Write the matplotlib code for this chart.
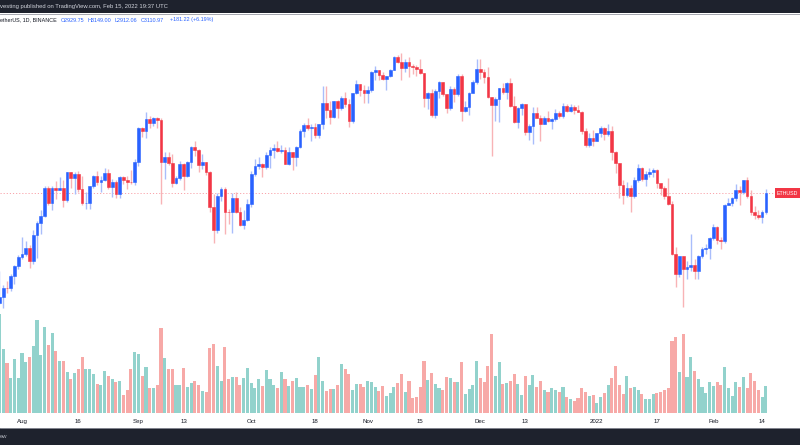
import matplotlib
matplotlib.use("Agg")
import matplotlib.pyplot as plt
from matplotlib.patches import Rectangle
from matplotlib.lines import Line2D
import numpy as np
import pandas as pd

# ---------------- data (ETH/USDT daily, Binance) ----------------
dates = pd.date_range("2021-07-26", "2022-02-15", freq="D")

opens = [2191, 2233, 2298, 2297, 2383, 2461,
         2536, 2558, 2609, 2505, 2724, 2827, 2890, 3157, 3011, 3163, 3141, 3164, 3045, 3322, 3265, 3309,
         3148, 3012, 3017, 3180, 3287, 3225, 3242, 3320, 3172, 3226, 3100, 3270, 3241, 3226, 3224,
         3433, 3833, 3790, 3938, 3888, 3953, 3927, 3430, 3495, 3428, 3210, 3265, 3411, 3290, 3430,
         3610, 3575, 3400, 3430, 3330, 2975, 2760, 3080, 3155, 2930, 2925, 3063, 2930, 2807, 2850,
         3000, 3308, 3390, 3418, 3384, 3517, 3575, 3590, 3560, 3574, 3415, 3545, 3491, 3604, 3788,
         3865, 3829, 3846, 3745, 3875, 4155, 4057, 3972, 4170, 4085, 4220, 4132, 3922, 4285, 4415, 4325,
         4288, 4324, 4586, 4605, 4535, 4476, 4518, 4611, 4807, 4732, 4636, 4724, 4667, 4650, 4626,
         4563, 4218, 4285, 3996, 4305, 4434, 4268, 4085, 4338, 4270, 4520, 4040, 4095, 4290, 4440,
         4630, 4585, 4515, 4235, 4120, 4200, 4350, 4300, 4430, 4110, 3910, 4085, 4135, 3780, 3860,
         4015, 3960, 3880, 3960, 3920, 3940, 4020, 3980, 4110, 4045, 4095, 4060, 4035, 3795, 3630, 3713,
         3680, 3765, 3830, 3762, 3795, 3550, 3420, 3193, 3090, 3160, 3080, 3240, 3370, 3250, 3310,
         3330, 3350, 3210, 3160, 3085, 3000, 2560, 2400, 2540, 2440, 2456, 2468, 2420, 2545, 2600, 2605,
         2690, 2790, 2680, 2665, 2990, 3015, 3060, 3140, 3125, 3240, 3080, 2925, 2900, 2880, 2929.75]

highs = [2422, 2318, 2345, 2398, 2468, 2550,
         2700, 2665, 2630, 2760, 2840, 2945, 3185, 3180, 3185, 3230, 3275, 3240, 3330, 3330, 3330,
         3335, 3290, 3120, 3185, 3295, 3338, 3280, 3375, 3360, 3250, 3248, 3280, 3290, 3290, 3350, 3470,
         3840, 3840, 4027, 3975, 3970, 3970, 3950, 3550, 3550, 3520, 3290, 3445, 3425, 3450, 3620,
         3680, 3580, 3520, 3440, 3340, 3100, 3110, 3175, 3175, 2960, 3110, 3120, 2975, 2950, 3050,
         3340, 3470, 3490, 3420, 3550, 3610, 3640, 3675, 3630, 3610, 3610, 3550, 3620, 3815, 3894,
         3955, 3880, 3890, 3885, 4380, 4375, 4170, 4175, 4185, 4240, 4295, 4200, 4290, 4460, 4415, 4390,
         4380, 4600, 4666, 4610, 4580, 4520, 4630, 4825, 4840, 4868, 4778, 4808, 4700, 4690, 4770,
         4570, 4300, 4345, 4335, 4445, 4440, 4275, 4380, 4371, 4550, 4550, 4180, 4300, 4470, 4780,
         4780, 4630, 4650, 4235, 4230, 4360, 4420, 4440, 4490, 4240, 4090, 4150, 4140, 3880, 4100,
         4100, 3990, 3980, 4050, 3950, 4070, 4040, 4150, 4140, 4130, 4125, 4120, 4040, 3825, 3770, 3810,
         3770, 3860, 3845, 3880, 3850, 3560, 3420, 3240, 3220, 3190, 3270, 3410, 3380, 3340, 3365,
         3365, 3355, 3215, 3180, 3260, 3030, 2620, 2545, 2545, 2505, 2725, 2515, 2550, 2620, 2640, 2700,
         2815, 2795, 2700, 3000, 3060, 3070, 3200, 3185, 3245, 3275, 3140, 2980, 2950, 2950, 3149.00]

lows = [2180, 2156, 2260, 2277, 2323, 2440,
        2515, 2540, 2450, 2480, 2530, 2725, 2880, 2998, 2945, 3055, 3140, 2970, 3025, 3160, 3100,
        3120, 2990, 2960, 2960, 3160, 3195, 3120, 3235, 3150, 3075, 3060, 3060, 3200, 3150, 3200, 3190,
        3388, 3720, 3710, 3830, 3850, 3830, 3000, 3250, 3400, 3175, 3200, 3245, 3140, 3275, 3365,
        3500, 3330, 3355, 3300, 2930, 2650, 2740, 3030, 2725, 2820, 2740, 2920, 2800, 2770, 2840,
        2970, 3280, 3360, 3270, 3355, 3370, 3480, 3545, 3540, 3410, 3400, 3350, 3395, 3590, 3720,
        3800, 3680, 3710, 3715, 3820, 3950, 3880, 3950, 3960, 4055, 4100, 3845, 3890, 4275, 4250, 4150,
        4150, 4300, 4460, 4460, 4460, 4330, 4510, 4610, 4715, 4460, 4580, 4510, 4560, 4520, 4550,
        4100, 4065, 3965, 3960, 4220, 4240, 4020, 4060, 4160, 4245, 3920, 4035, 3990, 4280, 4410,
        4485, 4430, 4220, 3500, 3920, 3900, 4270, 4200, 4090, 3890, 3830, 3995, 3750, 3690, 3640,
        3950, 3670, 3880, 3910, 3820, 3920, 3960, 3950, 4030, 4030, 4000, 4030, 3760, 3604, 3600, 3620,
        3680, 3725, 3690, 3730, 3460, 3320, 3060, 3000, 3070, 2930, 3060, 3225, 3230, 3185, 3275,
        3275, 3160, 3090, 3050, 2990, 2550, 2300, 2380, 2160, 2365, 2420, 2360, 2360, 2530, 2560, 2515,
        2680, 2640, 2600, 2650, 2990, 2980, 3030, 2990, 3100, 3060, 2900, 2860, 2860, 2830, 2912.06]

closes = [2233, 2298, 2297, 2383, 2461, 2536,
          2558, 2609, 2505, 2724, 2827, 2890, 3157, 3011, 3163, 3141, 3164, 3045, 3322, 3265, 3309,
          3148, 3012, 3017, 3180, 3287, 3225, 3242, 3320, 3172, 3226, 3100, 3270, 3241, 3226, 3224, 3433,
          3833, 3790, 3938, 3888, 3953, 3927, 3430, 3495, 3428, 3210, 3265, 3411, 3290, 3430, 3610,
          3575, 3400, 3430, 3330, 2975, 2760, 3080, 3155, 2930, 2925, 3063, 2930, 2807, 2850, 3000,
          3308, 3390, 3418, 3384, 3517, 3575, 3590, 3560, 3574, 3415, 3545, 3491, 3604, 3788, 3865,
          3829, 3846, 3745, 3875, 4155, 4057, 3972, 4170, 4085, 4220, 4132, 3922, 4285, 4415, 4325, 4288,
          4324, 4586, 4605, 4535, 4476, 4518, 4611, 4807, 4732, 4636, 4724, 4667, 4650, 4626, 4563,
          4218, 4285, 3996, 4305, 4434, 4268, 4085, 4338, 4270, 4520, 4040, 4095, 4290, 4440, 4630,
          4585, 4515, 4235, 4120, 4200, 4350, 4300, 4430, 4110, 3910, 4085, 4135, 3780, 3860, 4015,
          3960, 3880, 3960, 3920, 3940, 4020, 3980, 4110, 4045, 4095, 4060, 4035, 3795, 3630, 3713, 3680,
          3765, 3830, 3762, 3795, 3550, 3420, 3193, 3090, 3160, 3080, 3240, 3370, 3250, 3310, 3330,
          3350, 3210, 3160, 3085, 3000, 2560, 2400, 2540, 2440, 2456, 2468, 2420, 2545, 2600, 2605, 2690,
          2790, 2680, 2665, 2990, 3015, 3060, 3140, 3125, 3240, 3080, 2925, 2900, 2880, 2929.75, 3110.97]

volumes = [99, 64, 50, 35, 54, 35, 60, 51, 56, 67,
           93, 58, 86, 68, 80, 62, 52, 52, 41, 34,
           40, 44, 56, 44, 44, 39, 29, 28, 42, 37,
           34, 31, 32, 18, 23, 44, 61, 59, 37, 46,
           25, 25, 28, 85, 55, 44, 44, 28, 28, 45,
           26, 30, 32, 28, 22, 21, 65, 69, 47, 32,
           66, 34, 36, 36, 28, 35, 45, 30, 25, 34,
           27, 43, 34, 28, 25, 41, 34, 27, 32, 35,
           26, 26, 28, 24, 38, 56, 32, 22, 24, 24,
           28, 49, 44, 39, 23, 29, 29, 26, 32, 31,
           26, 22, 27, 17, 20, 26, 30,
           39, 21, 32, 15, 16, 26, 52, 33, 40, 29,
           25, 23, 36, 35, 31, 31, 51, 19, 24, 28,
           52, 35, 31, 47, 79, 37, 51, 29, 30, 32,
           39, 29, 18, 37, 28, 38, 26, 32, 23, 21,
           25, 23, 21, 26, 16, 14, 12, 15, 25, 21,
           17, 18, 10, 16, 20, 28, 35, 47, 28,
           19, 37, 25, 26, 23, 19, 14, 14, 19, 20,
           21, 23, 25, 72, 76, 41, 79, 36, 56, 42,
           34, 26, 20, 31, 27, 31, 28, 46, 25, 17,
           31, 26, 36, 25, 40, 32, 23, 16, 27]

tick_labels = ["Aug", "16", "Sep", "13", "Oct", "18", "Nov", "15", "Dec", "13", "2022", "17", "Feb", "14"]
tick_dates = ["2021-08-01", "2021-08-16", "2021-09-01", "2021-09-13", "2021-10-01", "2021-10-18",
              "2021-11-01", "2021-11-15", "2021-12-01", "2021-12-13", "2022-01-01", "2022-01-17",
              "2022-02-01", "2022-02-14"]

symbol_text = "etherUS, 1D, BINANCE"
ohlc_text = ["O2929.75", "H3149.00", "L2912.06", "C3110.97", "+181.22 (+6.19%)"]
last_price = 3110.97
price_tag = "ETHUSD"

# ---------------- styling ----------------
UP = "#2962FF"
DOWN = "#F23645"
UP_WICK = "#A9BDFB"
DOWN_WICK = "#F8B3B6"
VOL_UP = "#92D2CC"
VOL_DOWN = "#F7A9A7"
DARK = "#1E222D"
TXT = "#131722"

W, H = 800, 445
plt.rcParams["font.family"] = ["Liberation Sans", "DejaVu Sans"]
fig = plt.figure(figsize=(W / 100, H / 100), dpi=100)
fig.patch.set_facecolor("white")

n = len(closes)
x = np.arange(n)
o = np.array(opens, float)
h = np.array(highs, float)
l = np.array(lows, float)
c = np.array(closes, float)
v = np.array(volumes, float)
up = c >= o

top_px, bot_px = 13, 413
rect = [0, (H - bot_px) / H, 1, (bot_px - top_px) / H]
ax_vol = fig.add_axes(rect)
ax = fig.add_axes(rect, sharex=ax_vol)
ax_vol.set_zorder(0)
ax.set_zorder(1)
ax.patch.set_visible(False)

# volume
ax_vol.bar(x, v, width=0.82, color=np.where(up, VOL_UP, VOL_DOWN), linewidth=0)
ax_vol.set_ylim(0, bot_px - top_px)

# candles
ax.set_yscale("log")
ax.vlines(x, l, h, colors=np.where(up, UP_WICK, DOWN_WICK), linewidth=1.0, zorder=2)
body_lo = np.minimum(o, c)
body_hi = np.maximum(o, c)
ax.bar(x, body_hi - body_lo, bottom=body_lo, width=0.72,
       color=np.where(up, UP, DOWN), edgecolor=np.where(up, UP, DOWN), linewidth=0.4, zorder=3)

ax.axhline(last_price, color=DOWN, alpha=0.45, linewidth=0.7, linestyle=(0, (1.2, 2)), zorder=1)

# scales: log mapping ~0.0032 ln-units per pixel, last price at y=193
k = 0.0032
ln_last = np.log(last_price)
ax.set_ylim(np.exp(ln_last - (bot_px - 193) * k), np.exp(ln_last + (193 - top_px) * k))
# x: Aug 1 at x=22px, 3.757 px/day
px_per_day = 3.757
i_aug1 = list(dates).index(pd.Timestamp("2021-08-01"))
x0 = i_aug1 - 22 / px_per_day
ax.set_xlim(x0, x0 + W / px_per_day)

tick_pos = [list(dates).index(pd.Timestamp(d)) for d in tick_dates]
ax.set_xticks(tick_pos)
ax.set_xticklabels(tick_labels, fontsize=4.4, color=TXT)
ax.tick_params(axis="x", length=0, pad=4.5)
ax.tick_params(axis="y", left=False, labelleft=False, which="both")
ax.yaxis.set_minor_formatter(matplotlib.ticker.NullFormatter())
ax.yaxis.set_major_formatter(matplotlib.ticker.NullFormatter())
ax_vol.tick_params(left=False, labelleft=False, bottom=False, labelbottom=False)
for a in (ax, ax_vol):
    for s in a.spines.values():
        s.set_visible(False)

# header / footer bars
fig.patches.append(Rectangle((0, 1 - 13 / H), 1, 13 / H, transform=fig.transFigure,
                             facecolor=DARK, edgecolor="none", zorder=5))
fig.lines.append(Line2D([0, 1], [1 - 13.5 / H, 1 - 13.5 / H], transform=fig.transFigure,
                        color="#9598A1", linewidth=0.6, zorder=6))
fig.patches.append(Rectangle((0, 0), 1, (H - 428) / H, transform=fig.transFigure,
                             facecolor=DARK, edgecolor="none", zorder=5))
fig.lines.append(Line2D([0, 1], [(H - 427.5) / H, (H - 427.5) / H], transform=fig.transFigure,
                        color="#9598A1", linewidth=0.6, zorder=6))

fig.text(0 / W, 1 - 6.5 / H, "vesting published on TradingView.com, Feb 15, 2022 19:37 UTC",
         color="#D1D4DC", fontsize=4.2, va="center", ha="left", zorder=7)
fig.text(0 / W, 1 - 436.5 / H, "ew", color="#B2B5BE", fontsize=4.2, va="center", ha="left", zorder=7)

fig.text(0 / W, 1 - 20 / H, symbol_text, color=TXT, fontsize=3.9, va="center", ha="left")
for txt, xp in zip(ohlc_text, [61, 88, 115, 141, 170]):
    fig.text(xp / W, 1 - 20 / H, txt, color=UP, fontsize=3.9, va="center", ha="left")

# last-price tag at the right edge
fig.patches.append(Rectangle((775 / W, 1 - 198.5 / H), 25 / W, 10 / H, transform=fig.transFigure,
                             facecolor=DOWN, edgecolor="none", zorder=5))
fig.text(777 / W, 1 - 193.5 / H, price_tag, color="white", fontsize=3.8, va="center", ha="left",
         zorder=7)

fig.savefig("out.png", dpi=100)
